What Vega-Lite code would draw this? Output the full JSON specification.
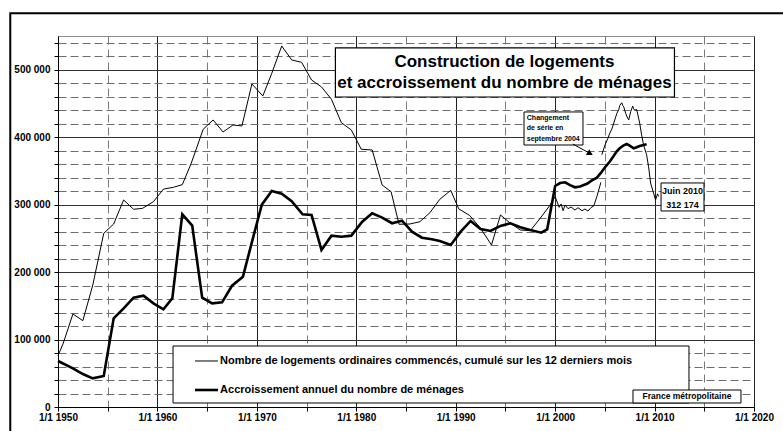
{
  "$schema": "https://vega.github.io/schema/vega-lite/v6.json",
  "width": 696,
  "height": 371,
  "autosize": {"type": "none"},
  "padding": {"left": 58, "top": 36, "right": 29, "bottom": 24},
  "background": "white",
  "config": {
    "view": {"stroke": "#8c8c8c", "strokeWidth": 1},
    "font": "Liberation Sans",
    "text": {"font": "Liberation Sans", "fontWeight": "bold", "color": "black"}
  },
  "layer": [
    {
      "data": {
        "values": [
          {"serie": "Logements commencés", "troncon": "L1", "annee": 1950.0, "valeur": 76000},
          {"serie": "Logements commencés", "troncon": "L1", "annee": 1950.5, "valeur": 93400},
          {"serie": "Logements commencés", "troncon": "L1", "annee": 1951.5, "valeur": 137900},
          {"serie": "Logements commencés", "troncon": "L1", "annee": 1952.5, "valeur": 128000},
          {"serie": "Logements commencés", "troncon": "L1", "annee": 1953.5, "valeur": 180900},
          {"serie": "Logements commencés", "troncon": "L1", "annee": 1954.6, "valeur": 257500},
          {"serie": "Logements commencés", "troncon": "L1", "annee": 1955.6, "valeur": 271300},
          {"serie": "Logements commencés", "troncon": "L1", "annee": 1956.6, "valeur": 306900},
          {"serie": "Logements commencés", "troncon": "L1", "annee": 1957.6, "valeur": 293100},
          {"serie": "Logements commencés", "troncon": "L1", "annee": 1958.5, "valeur": 294500},
          {"serie": "Logements commencés", "troncon": "L1", "annee": 1959.6, "valeur": 304400},
          {"serie": "Logements commencés", "troncon": "L1", "annee": 1960.6, "valeur": 323000},
          {"serie": "Logements commencés", "troncon": "L1", "annee": 1961.6, "valeur": 325700},
          {"serie": "Logements commencés", "troncon": "L1", "annee": 1962.5, "valeur": 329600},
          {"serie": "Logements commencés", "troncon": "L1", "annee": 1963.4, "valeur": 361300},
          {"serie": "Logements commencés", "troncon": "L1", "annee": 1964.6, "valeur": 411700},
          {"serie": "Logements commencés", "troncon": "L1", "annee": 1965.6, "valeur": 425500},
          {"serie": "Logements commencés", "troncon": "L1", "annee": 1966.6, "valeur": 407700},
          {"serie": "Logements commencés", "troncon": "L1", "annee": 1967.6, "valeur": 418100},
          {"serie": "Logements commencés", "troncon": "L1", "annee": 1968.5, "valeur": 416600},
          {"serie": "Logements commencés", "troncon": "L1", "annee": 1969.5, "valeur": 478900},
          {"serie": "Logements commencés", "troncon": "L1", "annee": 1970.6, "valeur": 461100},
          {"serie": "Logements commencés", "troncon": "L1", "annee": 1971.5, "valeur": 494700},
          {"serie": "Logements commencés", "troncon": "L1", "annee": 1972.5, "valeur": 535200},
          {"serie": "Logements commencés", "troncon": "L1", "annee": 1973.5, "valeur": 514500},
          {"serie": "Logements commencés", "troncon": "L1", "annee": 1974.5, "valeur": 511000},
          {"serie": "Logements commencés", "troncon": "L1", "annee": 1975.5, "valeur": 484800},
          {"serie": "Logements commencés", "troncon": "L1", "annee": 1976.5, "valeur": 474500},
          {"serie": "Logements commencés", "troncon": "L1", "annee": 1977.5, "valeur": 456200},
          {"serie": "Logements commencés", "troncon": "L1", "annee": 1978.5, "valeur": 421500},
          {"serie": "Logements commencés", "troncon": "L1", "annee": 1979.5, "valeur": 410700},
          {"serie": "Logements commencés", "troncon": "L1", "annee": 1980.5, "valeur": 382100},
          {"serie": "Logements commencés", "troncon": "L1", "annee": 1981.6, "valeur": 381000},
          {"serie": "Logements commencés", "troncon": "L1", "annee": 1982.6, "valeur": 329100},
          {"serie": "Logements commencés", "troncon": "L1", "annee": 1983.5, "valeur": 319200},
          {"serie": "Logements commencés", "troncon": "L1", "annee": 1984.3, "valeur": 270900},
          {"serie": "Logements commencés", "troncon": "L1", "annee": 1985.4, "valeur": 271300},
          {"serie": "Logements commencés", "troncon": "L1", "annee": 1986.4, "valeur": 274700},
          {"serie": "Logements commencés", "troncon": "L1", "annee": 1987.4, "valeur": 288000},
          {"serie": "Logements commencés", "troncon": "L1", "annee": 1988.4, "valeur": 307900},
          {"serie": "Logements commencés", "troncon": "L1", "annee": 1989.5, "valeur": 321200},
          {"serie": "Logements commencés", "troncon": "L1", "annee": 1990.3, "valeur": 293800},
          {"serie": "Logements commencés", "troncon": "L1", "annee": 1991.4, "valeur": 284000},
          {"serie": "Logements commencés", "troncon": "L1", "annee": 1992.5, "valeur": 264900},
          {"serie": "Logements commencés", "troncon": "L1", "annee": 1993.6, "valeur": 240200},
          {"serie": "Logements commencés", "troncon": "L1", "annee": 1994.5, "valeur": 284700},
          {"serie": "Logements commencés", "troncon": "L1", "annee": 1995.5, "valeur": 272400},
          {"serie": "Logements commencés", "troncon": "L1", "annee": 1996.5, "valeur": 262400},
          {"serie": "Logements commencés", "troncon": "L1", "annee": 1997.5, "valeur": 261400},
          {"serie": "Logements commencés", "troncon": "L1", "annee": 1998.5, "valeur": 279800},
          {"serie": "Logements commencés", "troncon": "L1", "annee": 1999.5, "valeur": 299500},
          {"serie": "Logements commencés", "troncon": "L1", "annee": 2000.0, "valeur": 311800},
          {"serie": "Logements commencés", "troncon": "L1", "annee": 2000.2, "valeur": 304000},
          {"serie": "Logements commencés", "troncon": "L1", "annee": 2000.4, "valeur": 296000},
          {"serie": "Logements commencés", "troncon": "L1", "annee": 2000.6, "valeur": 301000},
          {"serie": "Logements commencés", "troncon": "L1", "annee": 2000.8, "valeur": 291000},
          {"serie": "Logements commencés", "troncon": "L1", "annee": 2001.0, "valeur": 299500},
          {"serie": "Logements commencés", "troncon": "L1", "annee": 2001.3, "valeur": 294000},
          {"serie": "Logements commencés", "troncon": "L1", "annee": 2001.6, "valeur": 296500},
          {"serie": "Logements commencés", "troncon": "L1", "annee": 2002.0, "valeur": 292000},
          {"serie": "Logements commencés", "troncon": "L1", "annee": 2002.3, "valeur": 295500},
          {"serie": "Logements commencés", "troncon": "L1", "annee": 2002.7, "valeur": 291000},
          {"serie": "Logements commencés", "troncon": "L1", "annee": 2003.0, "valeur": 293500},
          {"serie": "Logements commencés", "troncon": "L1", "annee": 2003.3, "valeur": 290500},
          {"serie": "Logements commencés", "troncon": "L1", "annee": 2003.6, "valeur": 295500},
          {"serie": "Logements commencés", "troncon": "L1", "annee": 2003.9, "valeur": 298500},
          {"serie": "Logements commencés", "troncon": "L1", "annee": 2004.2, "valeur": 312000},
          {"serie": "Logements commencés", "troncon": "L1", "annee": 2004.6, "valeur": 333000},
          {"serie": "Logements commencés", "troncon": "L2", "annee": 2004.7, "valeur": 374000},
          {"serie": "Logements commencés", "troncon": "L2", "annee": 2005.0, "valeur": 388000},
          {"serie": "Logements commencés", "troncon": "L2", "annee": 2005.3, "valeur": 398000},
          {"serie": "Logements commencés", "troncon": "L2", "annee": 2005.5, "valeur": 406000},
          {"serie": "Logements commencés", "troncon": "L2", "annee": 2005.7, "valeur": 412000},
          {"serie": "Logements commencés", "troncon": "L2", "annee": 2005.9, "valeur": 421000},
          {"serie": "Logements commencés", "troncon": "L2", "annee": 2006.2, "valeur": 435000},
          {"serie": "Logements commencés", "troncon": "L2", "annee": 2006.4, "valeur": 441000},
          {"serie": "Logements commencés", "troncon": "L2", "annee": 2006.5, "valeur": 447000},
          {"serie": "Logements commencés", "troncon": "L2", "annee": 2006.7, "valeur": 451000},
          {"serie": "Logements commencés", "troncon": "L2", "annee": 2006.8, "valeur": 447000},
          {"serie": "Logements commencés", "troncon": "L2", "annee": 2006.9, "valeur": 445000},
          {"serie": "Logements commencés", "troncon": "L2", "annee": 2007.1, "valeur": 435000},
          {"serie": "Logements commencés", "troncon": "L2", "annee": 2007.3, "valeur": 428000},
          {"serie": "Logements commencés", "troncon": "L2", "annee": 2007.4, "valeur": 425500},
          {"serie": "Logements commencés", "troncon": "L2", "annee": 2007.6, "valeur": 438000},
          {"serie": "Logements commencés", "troncon": "L2", "annee": 2007.8, "valeur": 446000},
          {"serie": "Logements commencés", "troncon": "L2", "annee": 2007.9, "valeur": 442000},
          {"serie": "Logements commencés", "troncon": "L2", "annee": 2008.0, "valeur": 440000},
          {"serie": "Logements commencés", "troncon": "L2", "annee": 2008.2, "valeur": 441000},
          {"serie": "Logements commencés", "troncon": "L2", "annee": 2008.5, "valeur": 421000},
          {"serie": "Logements commencés", "troncon": "L2", "annee": 2008.7, "valeur": 403000},
          {"serie": "Logements commencés", "troncon": "L2", "annee": 2008.9, "valeur": 388000},
          {"serie": "Logements commencés", "troncon": "L2", "annee": 2009.2, "valeur": 374000},
          {"serie": "Logements commencés", "troncon": "L2", "annee": 2009.4, "valeur": 356000},
          {"serie": "Logements commencés", "troncon": "L2", "annee": 2009.6, "valeur": 332000},
          {"serie": "Logements commencés", "troncon": "L2", "annee": 2009.9, "valeur": 317000},
          {"serie": "Logements commencés", "troncon": "L2", "annee": 2010.1, "valeur": 307000},
          {"serie": "Logements commencés", "troncon": "L2", "annee": 2010.3, "valeur": 316000},
          {"serie": "Logements commencés", "troncon": "L2", "annee": 2010.4, "valeur": 312174},
          {"serie": "Accroissement des ménages", "troncon": "M", "annee": 1950.0, "valeur": 68200},
          {"serie": "Accroissement des ménages", "troncon": "M", "annee": 1951.5, "valeur": 57400},
          {"serie": "Accroissement des ménages", "troncon": "M", "annee": 1952.5, "valeur": 48900},
          {"serie": "Accroissement des ménages", "troncon": "M", "annee": 1953.5, "valeur": 42500},
          {"serie": "Accroissement des ménages", "troncon": "M", "annee": 1954.6, "valeur": 46000},
          {"serie": "Accroissement des ménages", "troncon": "M", "annee": 1955.6, "valeur": 131500},
          {"serie": "Accroissement des ménages", "troncon": "M", "annee": 1956.6, "valeur": 146300},
          {"serie": "Accroissement des ménages", "troncon": "M", "annee": 1957.6, "valeur": 162100},
          {"serie": "Accroissement des ménages", "troncon": "M", "annee": 1958.6, "valeur": 165000},
          {"serie": "Accroissement des ménages", "troncon": "M", "annee": 1959.6, "valeur": 153700},
          {"serie": "Accroissement des ménages", "troncon": "M", "annee": 1960.6, "valeur": 144800},
          {"serie": "Accroissement des ménages", "troncon": "M", "annee": 1961.5, "valeur": 161100},
          {"serie": "Accroissement des ménages", "troncon": "M", "annee": 1962.5, "valeur": 285700},
          {"serie": "Accroissement des ménages", "troncon": "M", "annee": 1963.5, "valeur": 268800},
          {"serie": "Accroissement des ménages", "troncon": "M", "annee": 1964.5, "valeur": 162100},
          {"serie": "Accroissement des ménages", "troncon": "M", "annee": 1965.5, "valeur": 153700},
          {"serie": "Accroissement des ménages", "troncon": "M", "annee": 1966.5, "valeur": 155200},
          {"serie": "Accroissement des ménages", "troncon": "M", "annee": 1967.5, "valeur": 179800},
          {"serie": "Accroissement des ménages", "troncon": "M", "annee": 1968.6, "valeur": 193200},
          {"serie": "Accroissement des ménages", "troncon": "M", "annee": 1969.6, "valeur": 250000},
          {"serie": "Accroissement des ménages", "troncon": "M", "annee": 1970.5, "valeur": 300000},
          {"serie": "Accroissement des ménages", "troncon": "M", "annee": 1971.5, "valeur": 320200},
          {"serie": "Accroissement des ménages", "troncon": "M", "annee": 1972.5, "valeur": 316300},
          {"serie": "Accroissement des ménages", "troncon": "M", "annee": 1973.5, "valeur": 305200},
          {"serie": "Accroissement des ménages", "troncon": "M", "annee": 1974.6, "valeur": 285700},
          {"serie": "Accroissement des ménages", "troncon": "M", "annee": 1975.5, "valeur": 284700},
          {"serie": "Accroissement des ménages", "troncon": "M", "annee": 1976.5, "valeur": 232800},
          {"serie": "Accroissement des ménages", "troncon": "M", "annee": 1977.5, "valeur": 254000},
          {"serie": "Accroissement des ménages", "troncon": "M", "annee": 1978.5, "valeur": 252500},
          {"serie": "Accroissement des ménages", "troncon": "M", "annee": 1979.5, "valeur": 254000},
          {"serie": "Accroissement des ménages", "troncon": "M", "annee": 1980.6, "valeur": 274700},
          {"serie": "Accroissement des ménages", "troncon": "M", "annee": 1981.6, "valeur": 287200},
          {"serie": "Accroissement des ménages", "troncon": "M", "annee": 1982.6, "valeur": 280700},
          {"serie": "Accroissement des ménages", "troncon": "M", "annee": 1983.6, "valeur": 272400},
          {"serie": "Accroissement des ménages", "troncon": "M", "annee": 1984.6, "valeur": 276200},
          {"serie": "Accroissement des ménages", "troncon": "M", "annee": 1985.6, "valeur": 259900},
          {"serie": "Accroissement des ménages", "troncon": "M", "annee": 1986.6, "valeur": 251000},
          {"serie": "Accroissement des ménages", "troncon": "M", "annee": 1987.6, "valeur": 248600},
          {"serie": "Accroissement des ménages", "troncon": "M", "annee": 1988.4, "valeur": 246100},
          {"serie": "Accroissement des ménages", "troncon": "M", "annee": 1989.5, "valeur": 240200},
          {"serie": "Accroissement des ménages", "troncon": "M", "annee": 1990.5, "valeur": 259900},
          {"serie": "Accroissement des ménages", "troncon": "M", "annee": 1991.5, "valeur": 275800},
          {"serie": "Accroissement des ménages", "troncon": "M", "annee": 1992.5, "valeur": 263900},
          {"serie": "Accroissement des ménages", "troncon": "M", "annee": 1993.5, "valeur": 261000},
          {"serie": "Accroissement des ménages", "troncon": "M", "annee": 1994.5, "valeur": 268400},
          {"serie": "Accroissement des ménages", "troncon": "M", "annee": 1995.5, "valeur": 272400},
          {"serie": "Accroissement des ménages", "troncon": "M", "annee": 1996.5, "valeur": 266400},
          {"serie": "Accroissement des ménages", "troncon": "M", "annee": 1997.5, "valeur": 262400},
          {"serie": "Accroissement des ménages", "troncon": "M", "annee": 1998.6, "valeur": 258400},
          {"serie": "Accroissement des ménages", "troncon": "M", "annee": 1999.2, "valeur": 263400},
          {"serie": "Accroissement des ménages", "troncon": "M", "annee": 2000.0, "valeur": 327700},
          {"serie": "Accroissement des ménages", "troncon": "M", "annee": 2000.5, "valeur": 332000},
          {"serie": "Accroissement des ménages", "troncon": "M", "annee": 2001.0, "valeur": 333100},
          {"serie": "Accroissement des ménages", "troncon": "M", "annee": 2001.5, "valeur": 329000},
          {"serie": "Accroissement des ménages", "troncon": "M", "annee": 2002.0, "valeur": 325700},
          {"serie": "Accroissement des ménages", "troncon": "M", "annee": 2002.5, "valeur": 327000},
          {"serie": "Accroissement des ménages", "troncon": "M", "annee": 2003.2, "valeur": 331000},
          {"serie": "Accroissement des ménages", "troncon": "M", "annee": 2003.7, "valeur": 336000},
          {"serie": "Accroissement des ménages", "troncon": "M", "annee": 2004.2, "valeur": 340000},
          {"serie": "Accroissement des ménages", "troncon": "M", "annee": 2004.6, "valeur": 347000},
          {"serie": "Accroissement des ménages", "troncon": "M", "annee": 2005.0, "valeur": 355000},
          {"serie": "Accroissement des ménages", "troncon": "M", "annee": 2005.5, "valeur": 364000},
          {"serie": "Accroissement des ménages", "troncon": "M", "annee": 2005.9, "valeur": 372500},
          {"serie": "Accroissement des ménages", "troncon": "M", "annee": 2006.2, "valeur": 379000},
          {"serie": "Accroissement des ménages", "troncon": "M", "annee": 2006.5, "valeur": 383600},
          {"serie": "Accroissement des ménages", "troncon": "M", "annee": 2006.9, "valeur": 388000},
          {"serie": "Accroissement des ménages", "troncon": "M", "annee": 2007.2, "valeur": 389900},
          {"serie": "Accroissement des ménages", "troncon": "M", "annee": 2007.5, "valeur": 387500},
          {"serie": "Accroissement des ménages", "troncon": "M", "annee": 2007.9, "valeur": 383600},
          {"serie": "Accroissement des ménages", "troncon": "M", "annee": 2008.2, "valeur": 385000},
          {"serie": "Accroissement des ménages", "troncon": "M", "annee": 2008.5, "valeur": 387000},
          {"serie": "Accroissement des ménages", "troncon": "M", "annee": 2009.2, "valeur": 389500}
        ]
      },
      "mark": {"type": "line", "color": "black", "strokeJoin": "miter"},
      "encoding": {
        "x": {
          "field": "annee", "type": "quantitative",
          "scale": {"domain": [1950, 2020], "nice": false, "zero": false},
          "axis": {
            "title": null,
            "values": [1950, 1955, 1960, 1965, 1970, 1975, 1980, 1985, 1990, 1995, 2000, 2005, 2010, 2015, 2020],
            "tickCount": 100,
            "labelExpr": "datum.value % 10 === 0 ? '1/1 ' + datum.value : ''",
            "labelFont": "Liberation Sans", "labelFontWeight": "bold", "labelFontSize": 10, "labelColor": "black",
            "labelPadding": 1, "labelOverlap": false, "labelFlush": false,
            "domainColor": "black", "tickColor": "black", "tickSize": 4,
            "grid": true,
            "gridColor": {"condition": {"test": "datum.value % 10 === 0", "value": "#222222"}, "value": "#7a7a7a"},
            "gridDash": {"condition": {"test": "datum.value % 10 === 0", "value": []}, "value": [8, 5]},
            "gridWidth": 1
          }
        },
        "y": {
          "field": "valeur", "type": "quantitative",
          "scale": {"domain": [0, 550000], "nice": false},
          "axis": {
            "title": null,
            "values": [0, 20000, 40000, 60000, 80000, 100000, 120000, 140000, 160000, 180000, 200000, 220000, 240000, 260000, 280000, 300000, 320000, 340000, 360000, 380000, 400000, 420000, 440000, 460000, 480000, 500000, 520000, 540000],
            "tickCount": 100,
            "labelExpr": "datum.value % 100000 === 0 ? (datum.value === 0 ? '0' : floor(datum.value / 1000) + ' 000') : ''",
            "labelFont": "Liberation Sans", "labelFontWeight": "bold", "labelFontSize": 10, "labelColor": "black",
            "labelPadding": 4, "labelOverlap": false,
            "domainColor": "black", "tickColor": "black", "tickSize": 4,
            "grid": true,
            "gridColor": {"condition": {"test": "datum.value % 100000 === 0", "value": "#333333"}, "value": "#6e6e6e"},
            "gridDash": {"condition": {"test": "datum.value % 100000 === 0", "value": []}, "value": [8, 4]},
            "gridWidth": 1
          }
        },
        "strokeWidth": {
          "field": "serie", "type": "nominal",
          "scale": {"domain": ["Logements commencés", "Accroissement des ménages"], "range": [1, 2.6]},
          "legend": null
        },
        "detail": {"field": "troncon", "type": "nominal"}
      }
    },
    {
      "data": {"values": [{}]},
      "mark": {"type": "rect", "fill": "white", "stroke": "black", "strokeWidth": 1.2},
      "encoding": {
        "x": {"datum": 1977.9}, "x2": {"datum": 2012.0},
        "y": {"datum": 532300}, "y2": {"datum": 459600}
      }
    },
    {
      "data": {"values": [{}]},
      "mark": {"type": "text", "text": ["Construction de logements", "et accroissement du nombre de ménages"], "fontSize": 17, "lineHeight": 21, "align": "center", "baseline": "middle"},
      "encoding": {"x": {"datum": 1994.9}, "y": {"datum": 511500}}
    },
    {
      "data": {"values": [{}]},
      "mark": {"type": "rect", "fill": "white", "stroke": "black", "strokeWidth": 1},
      "encoding": {
        "x": {"datum": 1996.87}, "x2": {"datum": 2002.8},
        "y": {"datum": 437400}, "y2": {"datum": 388400}
      }
    },
    {
      "data": {"values": [{}]},
      "mark": {"type": "text", "text": ["Changement", "de série en", "septembre 2004"], "fontSize": 7, "lineHeight": 10.5, "align": "left", "baseline": "top"},
      "encoding": {"x": {"datum": 1997.15}, "y": {"datum": 434400}}
    },
    {
      "data": {"values": [{}]},
      "mark": {"type": "rule", "color": "black", "strokeWidth": 1},
      "encoding": {
        "x": {"datum": 2001.77}, "x2": {"datum": 2003.5},
        "y": {"datum": 389900}, "y2": {"datum": 376000}
      }
    },
    {
      "data": {"values": [{}]},
      "mark": {"type": "point", "shape": "triangle-right", "angle": 29, "size": 45, "filled": true, "color": "black", "opacity": 1},
      "encoding": {"x": {"datum": 2003.52}, "y": {"datum": 375800}}
    },
    {
      "data": {"values": [{}]},
      "mark": {"type": "rect", "fill": "white", "stroke": "black", "strokeWidth": 1},
      "encoding": {
        "x": {"datum": 2010.65}, "x2": {"datum": 2014.97},
        "y": {"datum": 332100}, "y2": {"datum": 290600}
      }
    },
    {
      "data": {"values": [{}]},
      "mark": {"type": "text", "text": ["Juin 2010", "312 174"], "fontSize": 9, "lineHeight": 14, "align": "center", "baseline": "middle"},
      "encoding": {"x": {"datum": 2012.81}, "y": {"datum": 320200}}
    },
    {
      "data": {"values": [{}]},
      "mark": {"type": "rect", "fill": "white", "stroke": "black", "strokeWidth": 1},
      "encoding": {
        "x": {"datum": 1961.57}, "x2": {"datum": 2013.46},
        "y": {"datum": 90440}, "y2": {"datum": 5930}
      }
    },
    {
      "data": {"values": [{}]},
      "mark": {"type": "rule", "color": "black", "strokeWidth": 1},
      "encoding": {
        "x": {"datum": 1963.78}, "x2": {"datum": 1966.09},
        "y": {"datum": 68200}
      }
    },
    {
      "data": {"values": [{}]},
      "mark": {"type": "rule", "color": "black", "strokeWidth": 2.6},
      "encoding": {
        "x": {"datum": 1963.78}, "x2": {"datum": 1966.09},
        "y": {"datum": 25200}
      }
    },
    {
      "data": {"values": [{}]},
      "mark": {"type": "text", "text": "Nombre de logements ordinaires commencés, cumulé sur les 12 derniers mois", "fontSize": 11, "align": "left", "baseline": "middle"},
      "encoding": {"x": {"datum": 1966.3}, "y": {"datum": 68200}}
    },
    {
      "data": {"values": [{}]},
      "mark": {"type": "text", "text": "Accroissement annuel du nombre de ménages", "fontSize": 11, "align": "left", "baseline": "middle"},
      "encoding": {"x": {"datum": 1966.3}, "y": {"datum": 25200}}
    },
    {
      "data": {"values": [{}]},
      "mark": {"type": "rect", "fill": "white", "stroke": "black", "strokeWidth": 1},
      "encoding": {
        "x": {"datum": 2007.83}, "x2": {"datum": 2018.69},
        "y": {"datum": 25200}, "y2": {"datum": 5930}
      }
    },
    {
      "data": {"values": [{}]},
      "mark": {"type": "text", "text": "France métropolitaine", "fontSize": 8.5, "align": "center", "baseline": "middle"},
      "encoding": {"x": {"datum": 2013.26}, "y": {"datum": 15570}}
    },
    {
      "data": {"values": [{}]},
      "mark": {"type": "rect", "fill": "white", "fillOpacity": 0, "stroke": "black", "strokeWidth": 2},
      "encoding": {
        "x": {"datum": 1945.2}, "x2": {"datum": 2030},
        "y": {"datum": 583700}, "y2": {"datum": -80000}
      }
    }
  ]
}
